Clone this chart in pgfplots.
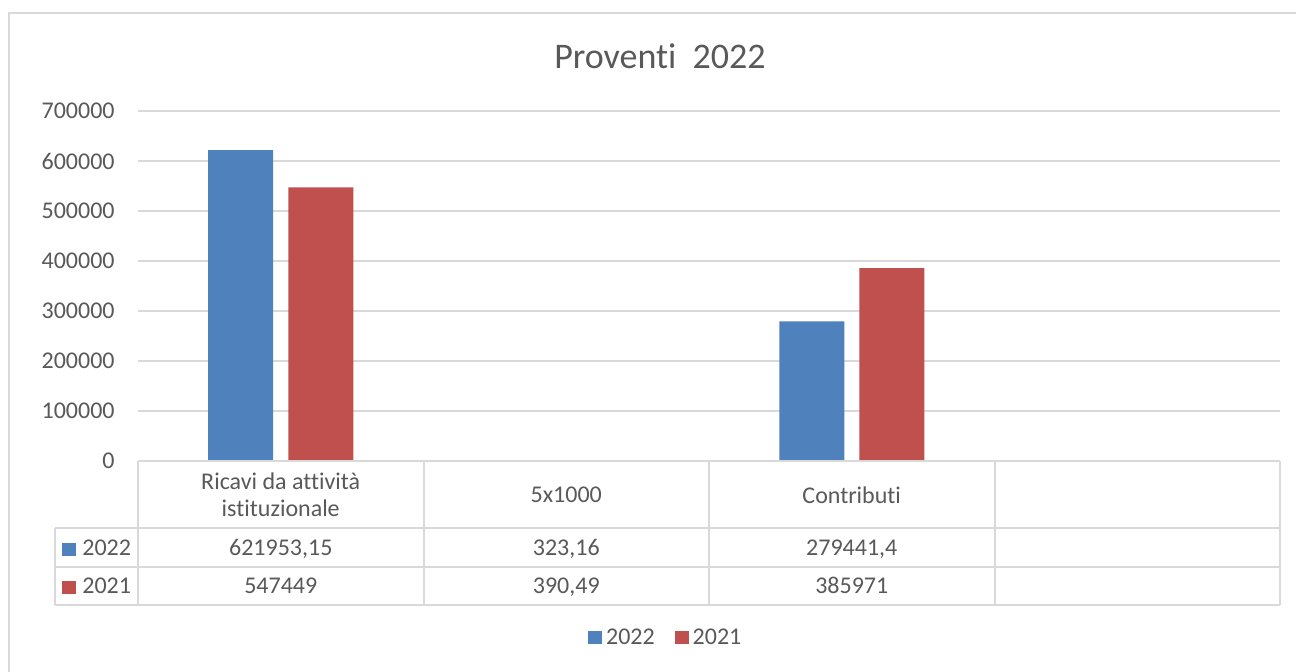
\documentclass[border=0pt]{standalone}
\usepackage{fontspec}
\setmainfont{Carlito}[Ligatures={NoCommon}]
\usepackage{pgfplots}
\pgfplotsset{compat=1.18}
\definecolor{c22}{HTML}{4F81BD}
\definecolor{c21}{HTML}{C0504D}
\definecolor{gridgray}{HTML}{D9D9D9}
\definecolor{txt}{HTML}{595959}
\begin{document}
\begin{tikzpicture}
\path[use as bounding box] (0,0) rectangle (648pt,336pt);
\fill[white] (0,0) rectangle (648pt,336pt);
\begin{axis}[
  at={(69pt,105.5pt)}, anchor=south west,
  scale only axis, width=571pt, height=175pt,
  xmin=-0.5, xmax=3.5, ymin=0, ymax=700000,
  ybar=7.5pt, bar width=32.5pt,
  xtick={0,1,2},
  xticklabels={{Ricavi da attività\\istituzionale},{5x1000},{Contributi}},
  ytick={0,100000,200000,300000,400000,500000,600000,700000},
  yticklabels={0,100000,200000,300000,400000,500000,600000,700000},
  scaled y ticks=false,
  ymajorgrids, grid style={gridgray, line width=1pt},
  axis line style={draw=none},
  major tick length=0pt,
  tick style={draw=none},
  yticklabel style={font=\fontsize{12}{14}\selectfont, text=txt, inner sep=0pt, xshift=-11.5pt},
  xticklabel style={font=\fontsize{12}{13.5}\selectfont, text=txt, align=center, anchor=center, yshift=-17pt},
  legend style={draw=none, fill=none, at={(0.463,-0.506)}, anchor=center,
    legend columns=2, font=\fontsize{12}{14}\selectfont, text=txt,
    /tikz/every even column/.append style={column sep=8pt}},
  legend image code/.code={\fill[#1] (0pt,-3pt) rectangle (7pt,3.5pt);},
]
\addplot[fill=c22, draw=none] coordinates {(0,621953.15) (1,323.16) (2,279441.4)};
\addplot[fill=c21, draw=none] coordinates {(0,547449) (1,390.49) (2,385971)};
\addlegendentry{2022}
\addlegendentry{2021}
\end{axis}
\begin{scope}[shift={(0,336pt)}, x=0.5pt, y=-0.5pt]
  % outer frame
  \draw[gridgray, line width=1pt] (9,672) -- (9,13) -- (1296,13);
  % title
  \node[text=txt, font=\fontsize{18}{20}\selectfont] at (660,56) {Proventi\ \ 2022};
  % data table
  \begin{scope}[gridgray, line width=1pt]
    \draw (138,461) -- (1280,461);
    \draw (55,528) -- (1280,528);
    \draw (55,567) -- (1280,567);
    \draw (55,605) -- (1280,605);
    \draw (55,528) -- (55,605);
    \draw (138,461) -- (138,605);
    \draw (423.5,461) -- (423.5,605);
    \draw (709,461) -- (709,605);
    \draw (994.5,461) -- (994.5,605);
    \draw (1280,461) -- (1280,605);
  \end{scope}
  \begin{scope}[every node/.style={text=txt, font=\fontsize{12}{14}\selectfont, anchor=base, inner sep=0pt}]
    \node[anchor=base west] at (62,556) {\textcolor{c22}{\rule{7pt}{6.5pt}}\hspace{3pt}2022};
    \node[anchor=base west] at (62,594) {\textcolor{c21}{\rule{7pt}{6.5pt}}\hspace{3pt}2021};
    \node at (280.75,556) {621953,15};
    \node at (566.25,556) {323,16};
    \node at (851.75,556) {279441,4};
    \node at (280.75,594) {547449};
    \node at (566.25,594) {390,49};
    \node at (851.75,594) {385971};
  \end{scope}
\end{scope}
\end{tikzpicture}
\end{document}
